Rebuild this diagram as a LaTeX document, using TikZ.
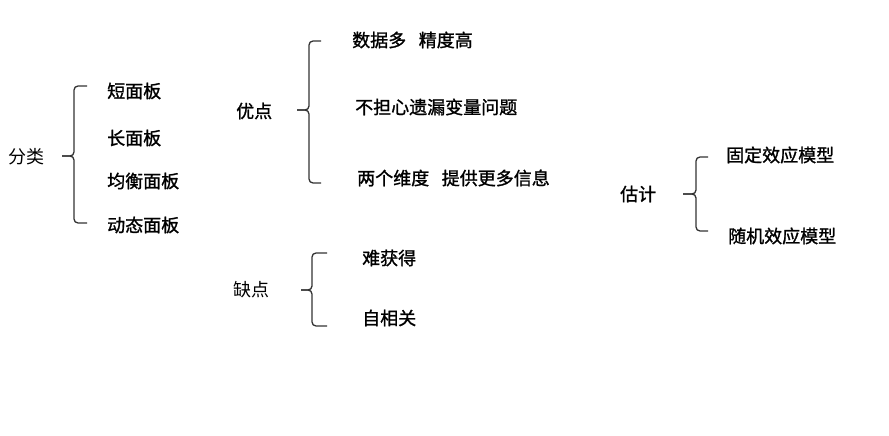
\documentclass[tikz,border=0pt]{standalone}
\usepackage{fontspec}
\usepackage{tikz}
\newfontfamily\cjk{Noto Sans CJK SC}
\newfontfamily\cjkb[FakeBold=1.2]{Noto Sans CJK SC}
% brace: #1 tip x, #2 stem x, #3 hook x, #4 top y, #5 middle y, #6 bottom y
\newcommand{\grpbrace}[6]{%
  \draw[brace] (#3,#4) -- (#2,#4) -- (#2,#5) -- (#1,#5);
  \draw[brace] (#3,#6) -- (#2,#6) -- (#2,#5) -- (#1,#5);}

\begin{document}
\begin{tikzpicture}[
  x=1pt, y=-1pt,
  every node/.style={anchor=west,inner sep=0pt,
    font=\cjkb\fontsize{18}{20}\selectfont},
  plain/.style={font=\cjk\fontsize{18}{20}\selectfont},
  brace/.style={draw=black!80,line width=1.3pt,rounded corners=4pt}
]
\useasboundingbox (0,0) rectangle (889,436);
% classification
\node[plain] (fenlei) at (8,157) {分类};
\node (duan) at (107,91) {短面板};
\node (chang) at (107,138) {长面板};
\node (junheng) at (107,181) {均衡面板};
\node (dongtai) at (107,225) {动态面板};
\grpbrace{62}{74}{87}{86}{156}{223}
% advantages
\node (youdian) at (236,111) {优点};
\node (you1) at (352,40) {数据多\hspace{0.7em}精度高};
\node (you2) at (355,107) {不担心遗漏变量问题};
\node (you3) at (357,178) {两个维度\hspace{0.7em}提供更多信息};
\grpbrace{297}{309}{321}{41}{110}{183}
% disadvantages
\node[plain] (quedian) at (233,290) {缺点};
\node (que1) at (362,258) {难获得};
\node (que2) at (362,318) {自相关};
\grpbrace{301}{312}{327}{253}{290}{326}
% estimation
\node (guji) at (620,194) {估计};
\node (gu1) at (726,155) {固定效应模型};
\node (gu2) at (728,236) {随机效应模型};
\grpbrace{683}{696}{708}{157}{194}{231}
\end{tikzpicture}
\end{document}
